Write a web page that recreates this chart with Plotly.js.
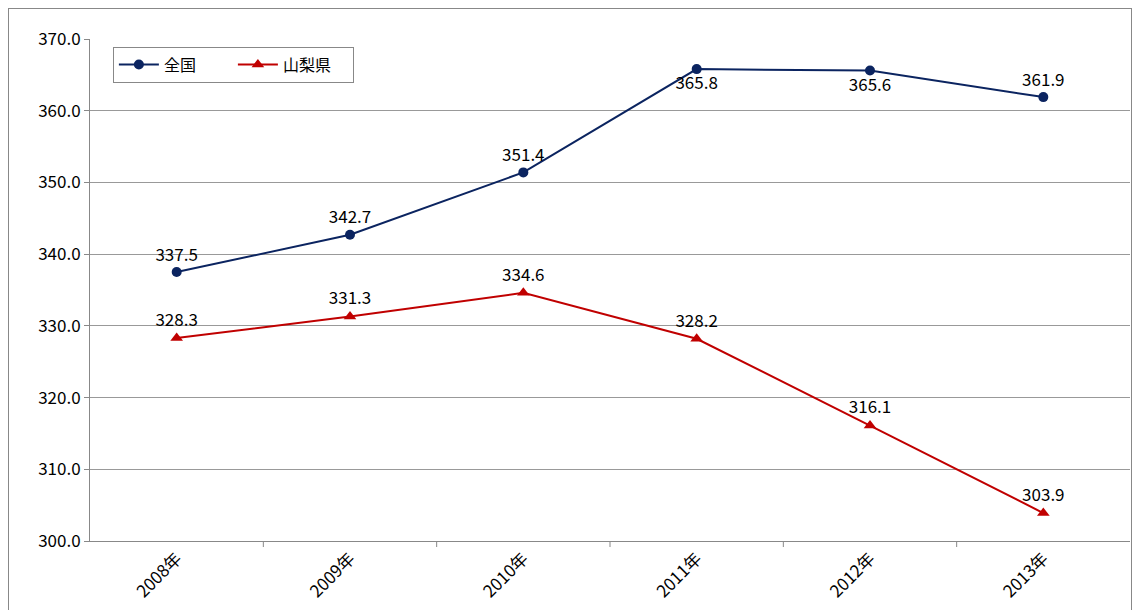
<!DOCTYPE html>
<html><head><meta charset="utf-8">
<script src="https://cdn.plot.ly/plotly-3.0.1.min.js"></script>
<style>body{margin:0;background:#fff}#chart{width:1141px;height:610px;position:relative}
#frame{position:absolute;left:8px;top:8px;width:1122px;height:620px;border:1px solid #888;pointer-events:none}</style>
</head><body><div id="chart"><div id="frame"></div></div>
<script>
var years = ['2008年', '2009年', '2010年', '2011年', '2012年', '2013年'];
var national = [337.5, 342.7, 351.4, 365.8, 365.6, 361.9];
var yamanashi = [328.3, 331.3, 334.6, 328.2, 316.1, 303.9];
var font = 'Noto Sans CJK JP, sans-serif';

var traces = [
  {x: years, y: national, name: '全国　　', type: 'scatter', mode: 'lines+markers+text',
   line: {color: '#0b2460', width: 2}, marker: {symbol: 'circle', size: 10, color: '#0b2460'},
   text: national.map(v => v.toFixed(1)),
   textposition: ['top center','top center','top center','bottom center','bottom center','top center'],
   textfont: {size: 17, color: '#000', family: font}, cliponaxis: false},
  {x: years, y: yamanashi, name: '山梨県　', type: 'scatter', mode: 'lines+markers+text',
   line: {color: '#c00000', width: 2}, marker: {symbol: 'triangle-up', size: 11, color: '#c00000'},
   text: yamanashi.map(v => v.toFixed(1)), textposition: 'top center',
   textfont: {size: 17, color: '#000', family: font}, cliponaxis: false}
];

var layout = {
  width: 1141, height: 610,
  margin: {l: 90, r: 11, t: 39, b: 69},
  paper_bgcolor: 'rgba(0,0,0,0)', plot_bgcolor: '#fff',
  font: {family: font, size: 17, color: '#000'},
  showlegend: true,
  legend: {x: 0.022, y: 0.985, xanchor: 'left', yanchor: 'top', orientation: 'h',
           bordercolor: '#888', borderwidth: 1, bgcolor: '#fff', font: {size: 16}, itemwidth: 40},
  xaxis: {type: 'category', range: [-0.5, 5.5], tickangle: -45, showgrid: false,
          showline: true, linecolor: '#888', ticks: '', tickfont: {size: 17}},
  yaxis: {range: [300, 370], dtick: 10, tickformat: '.1f', showgrid: true, gridcolor: '#999',
          showline: true, linecolor: '#888', ticks: 'outside', ticklen: 5, tickcolor: '#888',
          zeroline: false, tickfont: {size: 17}},
  shapes: [1, 2, 3, 4, 5].map(i => ({type: 'line', xref: 'x', yref: 'paper',
    x0: i - 0.5, x1: i - 0.5, y0: 0, y1: -0.012, line: {color: '#888', width: 1}}))
};
Plotly.newPlot('chart', traces, layout, {displayModeBar: false});
</script></body></html>
